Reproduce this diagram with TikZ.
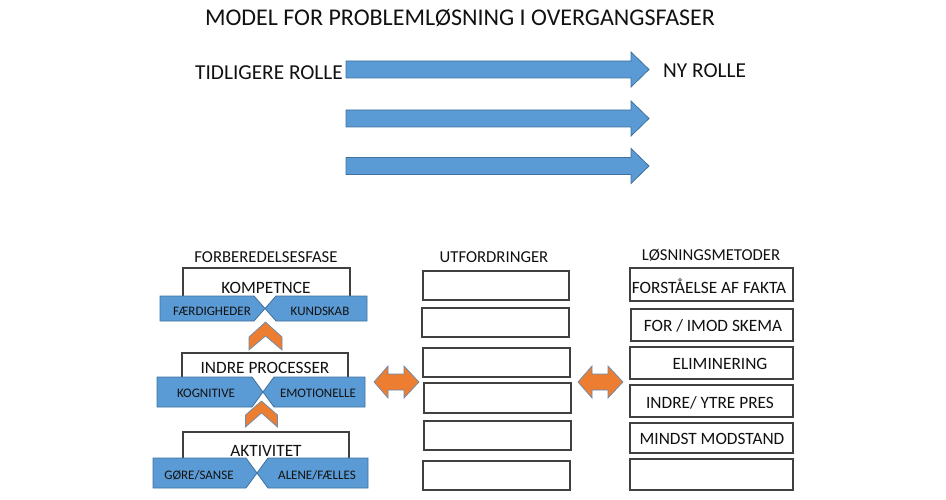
\documentclass[tikz,border=0pt]{standalone}
\usepackage{fontspec}
\setmainfont{Carlito}
\definecolor{blu}{HTML}{5B9BD5}
\definecolor{bluline}{HTML}{41719C}
\definecolor{org}{HTML}{ED7D31}
\definecolor{boxline}{HTML}{404040}
\definecolor{txt}{HTML}{111111}
\begin{document}
\begin{tikzpicture}[x=1pt,y=-1pt,
  bigarrow/.style={fill=blu,draw=bluline,line width=0.8pt},
  ribbon/.style={fill=blu,draw=bluline,line width=0.8pt},
  orangeshape/.style={fill=org,draw=bluline!80,line width=0.7pt,line join=miter},
  wbox/.style={draw=boxline,line width=1.1pt,fill=white,inner sep=0pt},
  lbl/.style={anchor=base,inner sep=0pt,text=txt},
  titlefont/.style={font=\fontsize{24}{26}\selectfont},
  rolefont/.style={font=\fontsize{21.3}{24}\selectfont},
  headfont/.style={font=\fontsize{16.7}{19}\selectfont},
  boxfont/.style={font=\fontsize{17.3}{20}\selectfont},
  ribfont/.style={font=\fontsize{13}{15}\selectfont}
]
\useasboundingbox (0,0) rectangle (946,500);

% title
\node[lbl,titlefont] (title) at (460,26) {MODEL FOR PROBLEMLØSNING I OVERGANGSFASER};

% top arrows
\foreach \y in {69.5,118.5,166}
  \draw[bigarrow] (346,\y-8.5) -- (631,\y-8.5) -- (631,\y-17.5) -- (649,\y)
     -- (631,\y+17.5) -- (631,\y+8.5) -- (346,\y+8.5) -- cycle;
\node[lbl,rolefont,anchor=base east] (old) at (343,80) {TIDLIGERE ROLLE};
\node[lbl,rolefont,anchor=base west] (new) at (663,78) {NY ROLLE};

% headers
\node[lbl,headfont] (h1) at (266,262) {FORBEREDELSESFASE};
\node[lbl,headfont] (h2) at (494,262) {UTFORDRINGER};
\node[lbl,headfont] (h3) at (711,261) {LØSNINGSMETODER};

% left column boxes (bottom edge hidden by ribbons)
\draw[boxline,line width=1.1pt,fill=white] (183,296) -- (183,268) -- (350,268) -- (350,296);
\draw[boxline,line width=1.1pt,fill=white] (182,377) -- (182,353) -- (348,353) -- (348,377);
\draw[boxline,line width=1.1pt,fill=white] (183,458) -- (183,432) -- (349,432) -- (349,458);
\node[lbl,boxfont] (komp) at (266,293) {KOMPETNCE};
\node[lbl,boxfont] (indre) at (265,373) {INDRE PROCESSER};
\node[lbl,boxfont] (akt) at (266,456) {AKTIVITET};

% ribbons: left L, right R, top T, bottom B, tip X, notch N
\foreach \L/\R/\T/\B/\X/\N in {160/367/296/321/265/11, 157/365/377/407/263/11, 153/368/458/488/257/11}{
  \draw[ribbon] (\L,\T) -- (\X-\N,\T) -- (\X,{(\T+\B)/2}) -- (\X-\N,\B) -- (\L,\B) -- cycle;
  \draw[ribbon] (\X+\N,\T) -- (\R,\T) -- (\R,\B) -- (\X+\N,\B) -- (\X,{(\T+\B)/2}) -- cycle;
}
\node[lbl,ribfont] (faerd) at (212,315) {FÆRDIGHEDER};
\node[lbl,ribfont] (kund) at (320,315) {KUNDSKAB};
\node[lbl,ribfont] (kogn) at (206,397) {KOGNITIVE};
\node[lbl,ribfont] (emo) at (318,397) {EMOTIONELLE};
\node[lbl,ribfont] (gore) at (199,479) {GØRE/SANSE};
\node[lbl,ribfont] (alene) at (317,479) {ALENE/FÆLLES};

% orange chevrons: centre C, half width H, apex A, shoulder S, bottom Bt, inner I
\foreach \C/\H/\A/\S/\Bt/\I in {265.5/16.5/322/337/350/336, 261.5/16/401/415/427/413}
  \draw[orangeshape] (\C,\A) -- (\C+\H,\S) -- (\C+\H,\Bt) -- (\C,\I) -- (\C-\H,\Bt) -- (\C-\H,\S) -- cycle;

% middle column boxes
\node[wbox,minimum width=146pt,minimum height=29pt] (u1) at (496,285.5) {};
\node[wbox,minimum width=147pt,minimum height=29pt] (u2) at (495.5,322.5) {};
\node[wbox,minimum width=147pt,minimum height=29pt] (u3) at (496.5,362.5) {};
\node[wbox,minimum width=147pt,minimum height=30pt] (u4) at (497.5,398) {};
\node[wbox,minimum width=147pt,minimum height=29pt] (u5) at (497.5,435.5) {};
\node[wbox,minimum width=147pt,minimum height=29pt] (u6) at (496.5,475.5) {};

% right column boxes
\node[wbox,minimum width=163pt,minimum height=33pt] (m1) at (711.5,284.5) {};
\node[wbox,minimum width=162pt,minimum height=32pt] (m2) at (712,325) {};
\node[wbox,minimum width=163pt,minimum height=32pt] (m3) at (711.5,363) {};
\node[wbox,minimum width=163pt,minimum height=32pt] (m4) at (711.5,401) {};
\node[wbox,minimum width=163pt,minimum height=30pt] (m5) at (711.5,438) {};
\node[wbox,minimum width=163pt,minimum height=31pt] (m6) at (711.5,474.5) {};
\node[lbl,boxfont] (t1) at (709,293) {FORSTÅELSE AF FAKTA};
\node[lbl,boxfont] (t2) at (713,331) {FOR / IMOD SKEMA};
\node[lbl,boxfont] (t3) at (720,369) {ELIMINERING};
\node[lbl,boxfont] (t4) at (710,408) {INDRE/ YTRE PRES};
\node[lbl,boxfont] (t5) at (712,444) {MINDST MODSTAND};

% orange double arrows
\foreach \a in {374,578}
  \draw[orangeshape] (\a,382) -- (\a+14,366) -- (\a+14,374) -- (\a+30,374) -- (\a+30,366)
     -- (\a+45,382) -- (\a+30,398) -- (\a+30,390) -- (\a+14,390) -- (\a+14,398) -- cycle;
\end{tikzpicture}
\end{document}
